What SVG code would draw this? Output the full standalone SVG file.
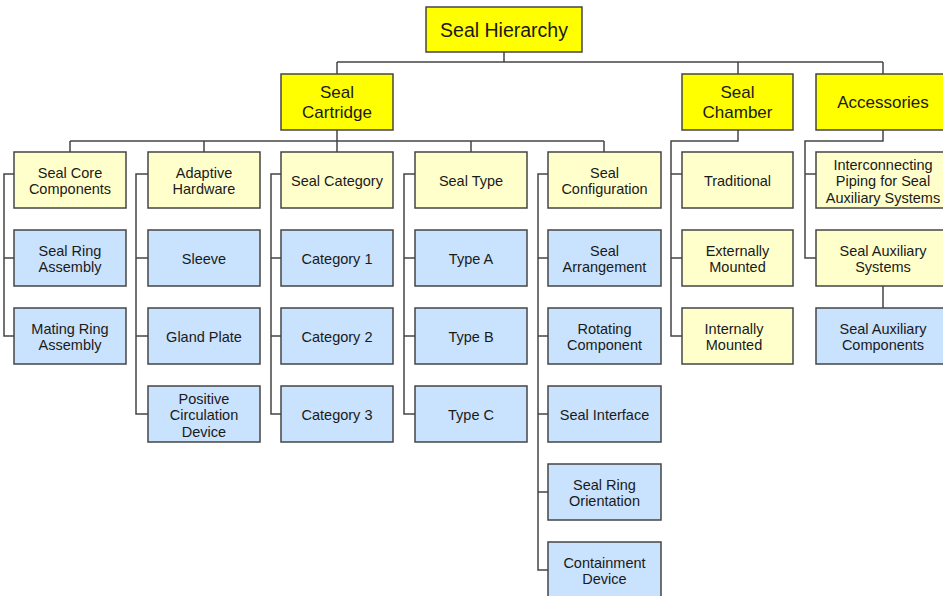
<svg xmlns="http://www.w3.org/2000/svg" width="943" height="596" viewBox="0 0 943 596">
<style>
.n rect{stroke:#454545;stroke-width:1.5}
.y{fill:#ffff00}
.ly{fill:#ffffcc}
.b{fill:#c9e2fd}
text{font-family:"Liberation Sans",Arial,sans-serif;fill:#1a1a1a;text-anchor:middle;font-size:14.5px}
.t0{font-size:19.5px}
.t1{font-size:17px}
#connectors path{fill:none;stroke:#454545;stroke-width:1.5}
</style>
<g id="connectors">
<path d="M504 52V62M337 62H883M337 62V74M738 62V74M883 62V74"/>
<path d="M337 130V141M70 141H604M70 141V152M204 141V152M337 141V152M471 141V152M604 141V152"/>
<path d="M738 130V141H671V336H682M671 174H682M671 258H682"/>
<path d="M883 130V141H805V258H816M805 174H816"/>
<path d="M883 286V308"/>
<path d="M14 174H4V336H14M4 258H14"/>
<path d="M148 174H136V414H148M136 258H148M136 336H148"/>
<path d="M281 174H271V414H281M271 258H281M271 336H281"/>
<path d="M415 174H404V414H415M404 258H415M404 336H415"/>
<path d="M548 174H538V570H548M538 258H548M538 336H548M538 414H548M538 492H548"/>
</g>
<g id="root" class="n"><rect class="y" x="426" y="7" width="156" height="45"/><text class="t0" x="504" y="36.5">Seal Hierarchy</text></g>
<g id="seal-cartridge" class="n"><rect class="y" x="281" y="74" width="112" height="56"/><text class="t1" x="337" y="98">Seal</text><text class="t1" x="337" y="118">Cartridge</text></g>
<g id="seal-chamber" class="n"><rect class="y" x="682" y="74" width="111" height="56"/><text class="t1" x="737.5" y="98">Seal</text><text class="t1" x="737.5" y="118">Chamber</text></g>
<g id="accessories" class="n"><rect class="y" x="816" y="74" width="134" height="56"/><text class="t1" x="883" y="108">Accessories</text></g>

<g id="seal-core-components" class="n"><rect class="ly" x="14" y="152" width="112" height="56"/><text x="70" y="178">Seal Core</text><text x="70" y="194">Components</text></g>
<g id="adaptive-hardware" class="n"><rect class="ly" x="148" y="152" width="112" height="56"/><text x="204" y="178">Adaptive</text><text x="204" y="194">Hardware</text></g>
<g id="seal-category" class="n"><rect class="ly" x="281" y="152" width="112" height="56"/><text x="337" y="186">Seal Category</text></g>
<g id="seal-type" class="n"><rect class="ly" x="415" y="152" width="112" height="56"/><text x="471" y="186">Seal Type</text></g>
<g id="seal-configuration" class="n"><rect class="ly" x="548" y="152" width="113" height="56"/><text x="604.5" y="178">Seal</text><text x="604.5" y="194">Configuration</text></g>
<g id="traditional" class="n"><rect class="ly" x="682" y="152" width="111" height="56"/><text x="737.5" y="186">Traditional</text></g>
<g id="interconnecting-piping" class="n"><rect class="ly" x="816" y="152" width="134" height="56"/><text x="883" y="169.5">Interconnecting</text><text x="883" y="186">Piping for Seal</text><text x="883" y="202.5">Auxiliary Systems</text></g>

<g id="seal-ring-assembly" class="n"><rect class="b" x="14" y="230" width="112" height="56"/><text x="70" y="256">Seal Ring</text><text x="70" y="272">Assembly</text></g>
<g id="mating-ring-assembly" class="n"><rect class="b" x="14" y="308" width="112" height="56"/><text x="70" y="334">Mating Ring</text><text x="70" y="350">Assembly</text></g>

<g id="sleeve" class="n"><rect class="b" x="148" y="230" width="112" height="56"/><text x="204" y="264">Sleeve</text></g>
<g id="gland-plate" class="n"><rect class="b" x="148" y="308" width="112" height="56"/><text x="204" y="342">Gland Plate</text></g>
<g id="positive-circulation-device" class="n"><rect class="b" x="148" y="386" width="112" height="56"/><text x="204" y="403.5">Positive</text><text x="204" y="420">Circulation</text><text x="204" y="436.5">Device</text></g>

<g id="category-1" class="n"><rect class="b" x="281" y="230" width="112" height="56"/><text x="337" y="264">Category 1</text></g>
<g id="category-2" class="n"><rect class="b" x="281" y="308" width="112" height="56"/><text x="337" y="342">Category 2</text></g>
<g id="category-3" class="n"><rect class="b" x="281" y="386" width="112" height="56"/><text x="337" y="420">Category 3</text></g>

<g id="type-a" class="n"><rect class="b" x="415" y="230" width="112" height="56"/><text x="471" y="264">Type A</text></g>
<g id="type-b" class="n"><rect class="b" x="415" y="308" width="112" height="56"/><text x="471" y="342">Type B</text></g>
<g id="type-c" class="n"><rect class="b" x="415" y="386" width="112" height="56"/><text x="471" y="420">Type C</text></g>

<g id="seal-arrangement" class="n"><rect class="b" x="548" y="230" width="113" height="56"/><text x="604.5" y="256">Seal</text><text x="604.5" y="272">Arrangement</text></g>
<g id="rotating-component" class="n"><rect class="b" x="548" y="308" width="113" height="56"/><text x="604.5" y="334">Rotating</text><text x="604.5" y="350">Component</text></g>
<g id="seal-interface" class="n"><rect class="b" x="548" y="386" width="113" height="56"/><text x="604.5" y="420">Seal Interface</text></g>
<g id="seal-ring-orientation" class="n"><rect class="b" x="548" y="464" width="113" height="56"/><text x="604.5" y="490">Seal Ring</text><text x="604.5" y="506">Orientation</text></g>
<g id="containment-device" class="n"><rect class="b" x="548" y="542" width="113" height="56"/><text x="604.5" y="568">Containment</text><text x="604.5" y="584">Device</text></g>

<g id="externally-mounted" class="n"><rect class="ly" x="682" y="230" width="111" height="56"/><text x="737.5" y="256">Externally</text><text x="737.5" y="272">Mounted</text></g>
<g id="internally-mounted" class="n"><rect class="ly" x="682" y="308" width="111" height="56"/><text x="734" y="334">Internally</text><text x="734" y="350">Mounted</text></g>

<g id="seal-auxiliary-systems" class="n"><rect class="ly" x="816" y="230" width="134" height="56"/><text x="883" y="256">Seal Auxiliary</text><text x="883" y="272">Systems</text></g>
<g id="seal-auxiliary-components" class="n"><rect class="b" x="816" y="308" width="134" height="56"/><text x="883" y="334">Seal Auxiliary</text><text x="883" y="350">Components</text></g>
</svg>
